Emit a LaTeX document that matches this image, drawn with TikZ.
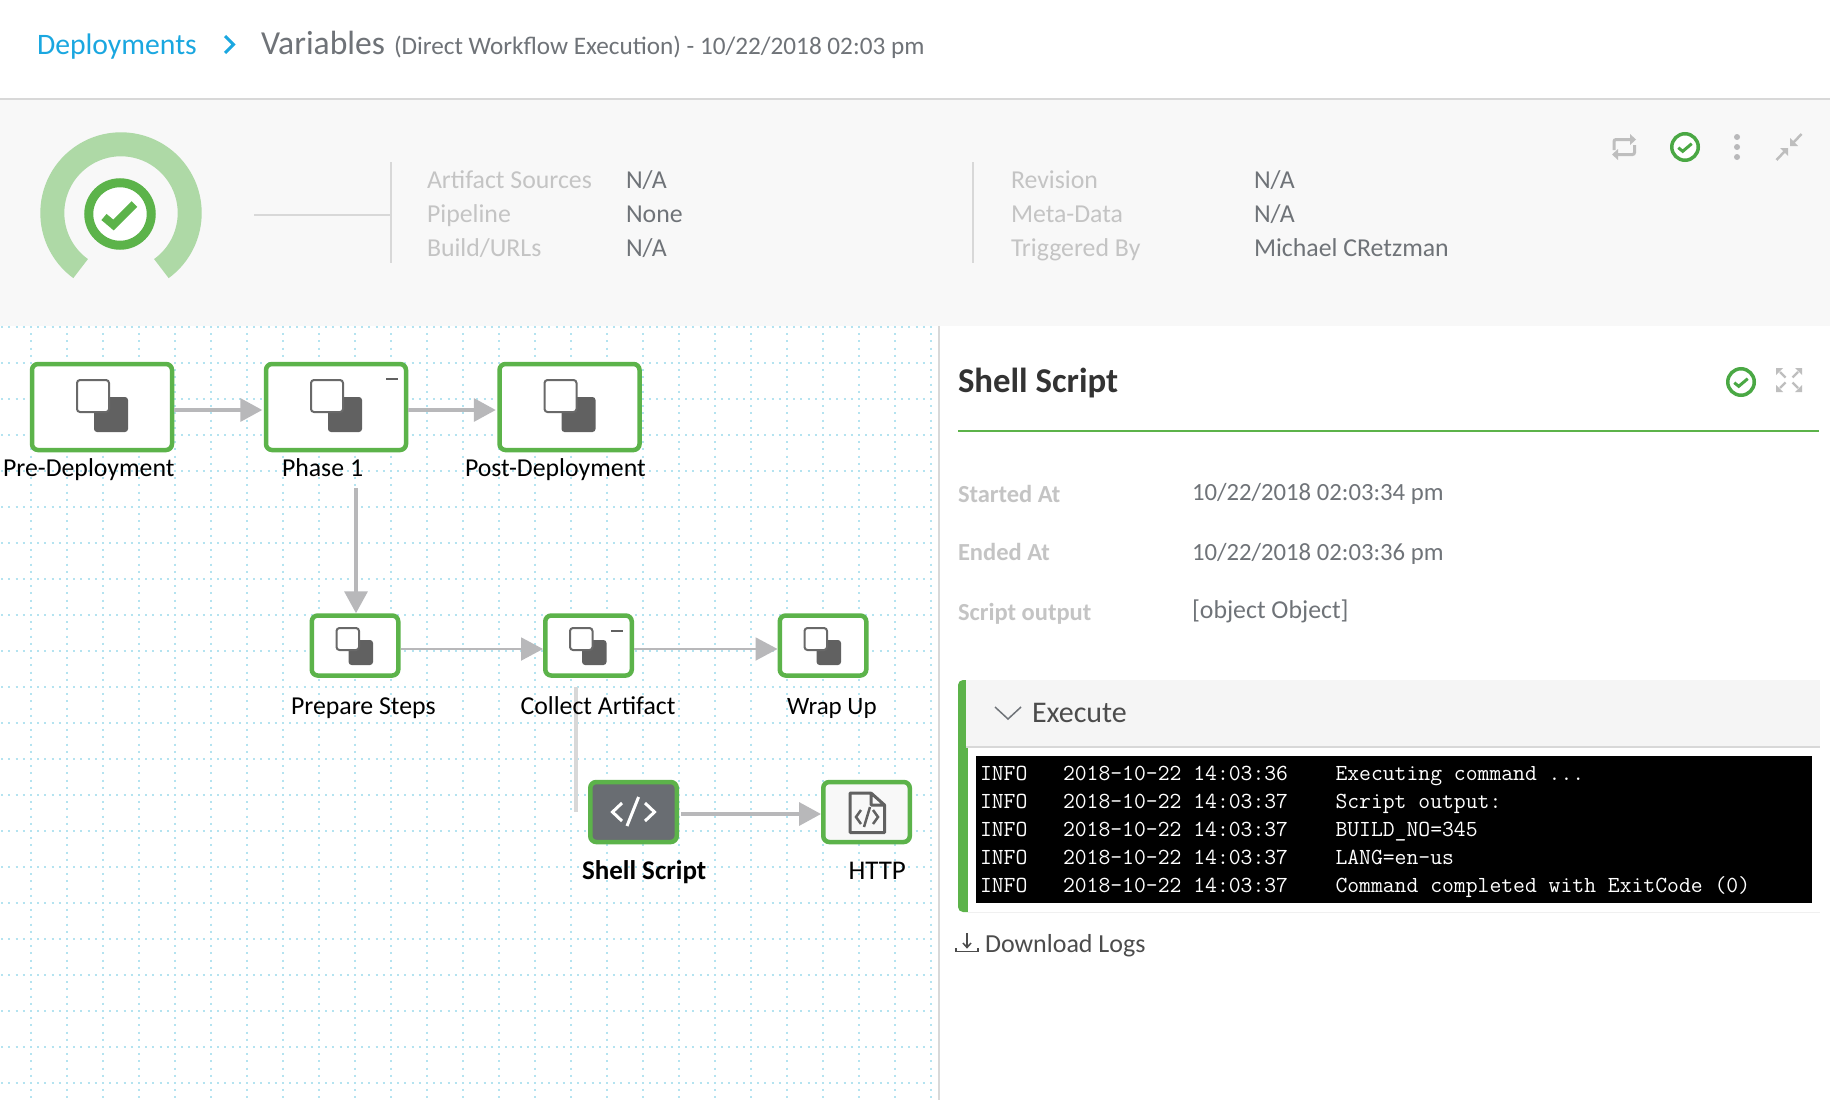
\documentclass[tikz,border=0pt]{standalone}
\usepackage{fontspec}
\setmainfont{Carlito}
\usetikzlibrary{arrows.meta}

\definecolor{okgreen}{HTML}{5CB34A}
\definecolor{ringgreen}{HTML}{AED9A6}
\definecolor{checkgreen}{HTML}{4AA844}
\definecolor{linkblue}{HTML}{1AA7E0}
\definecolor{bandgray}{HTML}{F8F8F8}
\definecolor{rulegray}{HTML}{D8D8D8}
\definecolor{arrowgray}{HTML}{B8B8BA}
\definecolor{icongray}{HTML}{BEBEBE}
\definecolor{mutedgray}{HTML}{C4C4C4}
\definecolor{softgray}{HTML}{6F7378}
\definecolor{squaregray}{HTML}{616161}
\definecolor{griddot}{HTML}{B4E3F0}

\tikzset{
  txt/.style={anchor=base west, inner sep=0pt, outer sep=0pt, font=\fontsize{25.8}{30}\selectfont},
  muted/.style={txt, text=mutedgray},
  value/.style={txt, text=softgray},
  datetext/.style={txt, text=softgray, font=\fontsize{24.7}{30}\selectfont},
  steplabel/.style={txt, text=black},
  sidelabel/.style={muted, font=\bfseries\fontsize{24.5}{30}\selectfont},
  logtext/.style={anchor=base west, inner sep=0pt, outer sep=0pt, text=white, font=\ttfamily\fontsize{23}{26}\selectfont},
  bigbox/.style={draw=okgreen, fill=white, line width=4.5pt, rounded corners=6pt, minimum width=140pt, minimum height=86pt, inner sep=0pt},
  smallbox/.style={draw=okgreen, fill=white, line width=4.5pt, rounded corners=6pt, minimum width=86.5pt, minimum height=60pt, inner sep=0pt},
  thickflow/.style={draw=arrowgray, line width=3.5pt, -{Triangle[length=22pt,width=23pt]}},
  thinflow/.style={draw=arrowgray, line width=2pt, -{Triangle[length=22pt,width=23pt]}},
  checkring/.style={circle, draw=checkgreen, fill=white, line width=3.5pt, minimum size=26.5pt, inner sep=0pt},
  whitesquare/.style={draw=squaregray!95, fill=white, line width=2pt, rounded corners=3pt},
  darksquare/.style={fill=squaregray, rounded corners=3pt},
  dotline/.style={griddot, line width=2pt, dash pattern=on 2pt off 5.2pt},
}

\begin{document}
\begin{tikzpicture}[
      x = 1pt,
      y = -1pt,
  ]

  \useasboundingbox (0,0) rectangle (1830,1100);
  \fill[white] (0,0) rectangle (1830,1100);

  % header
  \fill[bandgray] (0,99) rectangle (1830,326);
  \draw[rulegray, line width=2pt] (0,99) -- (1830,99);
  \node[txt, text=linkblue, font=\fontsize{29.7}{34}\selectfont] (crumb) at (37,54) {Deployments};
  \draw[linkblue, line width=3pt] (225,36) -- (233.5,44.5) -- (225,53);
  \node[value, font=\fontsize{33.6}{38}\selectfont] (pagetitle) at (261,54) {Variables};
  \node[value, font=\fontsize{25.2}{30}\selectfont] (pagesub) at (394,54) {(Direct Workflow Execution) - 10/22/2018 02:03 pm};

  % gauge
  \draw[ringgreen, line width=24pt] (121,213) ++(54:68.7) arc[start angle=-54, end angle=234, radius=68.7pt];
  \node[circle, draw=okgreen, fill=white, line width=9pt, minimum size=62.5pt, inner sep=0pt] (gaugecore) at (120,214) {};
  \draw[okgreen, line width=8pt] (104,217) -- (113.5,225) -- (134.5,204);

  \draw[rulegray, line width=2pt] (254,215) -- (391,215);
  \draw[rulegray, line width=2pt] (391,162) -- (391,263);
  \draw[rulegray, line width=2pt] (973,162) -- (973,263);

  % info columns
  \node[muted] (artlbl) at (427,188) {Artifact Sources};
  \node[muted] (pipelbl) at (427,222) {Pipeline};
  \node[muted] (buildlbl) at (427,256) {Build/URLs};
  \node[value] (artval) at (626,188) {N/A};
  \node[value] (pipeval) at (626,222) {None};
  \node[value] (buildval) at (626,256) {N/A};
  \node[muted] (revlbl) at (1011,188) {Revision};
  \node[muted] (metalbl) at (1011,222) {Meta-Data};
  \node[muted] (triglbl) at (1011,256) {Triggered By};
  \node[value] (revval) at (1254,188) {N/A};
  \node[value] (metaval) at (1254,222) {N/A};
  \node[value] (trigval) at (1254,256) {Michael CRetzman};

  % top icons
  \draw[icongray, line width=3pt, rounded corners=2pt] (1614,150) -- (1614,139.5) -- (1630,139.5);
  \fill[icongray] (1636,139.5) -- (1630,134) -- (1630,145) -- cycle;
  \draw[icongray, line width=3pt, rounded corners=2pt] (1634.5,145) -- (1634.5,154.5) -- (1618,154.5);
  \fill[icongray] (1612,154.5) -- (1618,149) -- (1618,160) -- cycle;
  \node[checkring] (statustop) at (1685,147) {};
  \draw[checkgreen, line width=3pt] (1678.3,147.7) -- (1682.7,151.3) -- (1691.7,143.7);
  \foreach \doty in {137,147,157}
    \fill[arrowgray] (1737,\doty) circle[radius=3pt];
  \begin{scope}[shift={(1789,147)}]
    \foreach \sx in {1,-1} {
      \fill[icongray] (\sx*1,-\sx*1) -- (\sx*9,-\sx*1) -- (\sx*1,-\sx*9) -- cycle;
      \draw[icongray, line width=2.5pt] (\sx*4,-\sx*4) -- (\sx*12.5,-\sx*13);
    }
  \end{scope}

  % dotted canvas
  \foreach \gy in {327,363,...,1100}
    \draw[dotline] (-6,\gy) -- (935,\gy);
  \foreach \gx in {31,67,...,935}
    \draw[dotline] (\gx,326) -- (\gx,1100);
  \draw[rulegray, line width=2pt] (939,326) -- (939,1100);

  % top row
  \node[bigbox] (predeploy) at (102,407) {};
  \node[bigbox] (phaseone) at (336,407) {};
  \node[bigbox] (postdeploy) at (569.5,407) {};
  \foreach \nm in {predeploy,phaseone,postdeploy} {
    \begin{scope}[shift={(\nm.center)}]
      \fill[darksquare] (-8,-10) rectangle (26,25);
      \draw[whitesquare] (-25,-27) rectangle (7,5);
    \end{scope}
  }
  \draw[squaregray, line width=1.5pt] (386,379) -- (398,379);
  \draw[thickflow, shorten >=1.5pt] ([yshift=-3pt]predeploy.east) -- ([yshift=-3pt]phaseone.west);
  \draw[thickflow, shorten >=1.5pt] ([yshift=-3pt]phaseone.east) -- ([yshift=-3pt]postdeploy.west);
  \node[steplabel] (prelbl) at (3,476) {Pre-Deployment};
  \node[steplabel] (phaselbl) at (282,476) {Phase 1};
  \node[steplabel] (postlbl) at (465,476) {Post-Deployment};

  % second row
  \coordinate (collectdown) at (576,687);
  \coordinate (shelljoin) at (576,812);
  \draw[rulegray, line width=4pt] (collectdown) -- (shelljoin);
  \node[smallbox] (prepare) at (355,645.5) {};
  \node[smallbox] (collect) at (588.5,645.5) {};
  \node[smallbox] (wrapup) at (823,645.5) {};
  \foreach \nm in {prepare,collect,wrapup} {
    \begin{scope}[shift={(\nm.center)}]
      \fill[darksquare] (-6.4,-5.5) rectangle (18,19.5);
      \draw[whitesquare] (-18.5,-17.5) rectangle (4,4.5);
    \end{scope}
  }
  \draw[squaregray, line width=1.5pt] (611,631) -- (623,631);
  \coordinate (phasedown) at (356,488);
  \draw[thickflow] (phasedown) -- (phasedown |- prepare.north);
  \draw[thinflow] ([yshift=-3.5pt]prepare.east) -- ([yshift=-3.5pt]collect.west);
  \draw[thinflow] ([yshift=-3.5pt]collect.east) -- ([yshift=-3.5pt]wrapup.west);
  \node[steplabel] (preparelbl) at (291,714) {Prepare Steps};
  \node[steplabel] (collectlbl) at (520.5,714) {Collect Artifact};
  \node[steplabel, font=\fontsize{25}{30}\selectfont] (wraplbl) at (787,714) {Wrap Up};

  % third row
  \node[smallbox, fill=softgray!95!black] (shell) at (633.5,812) {};
  \node[smallbox, fill=bandgray] (http) at (866.5,812) {};
  \draw[white, line width=3pt] (622,803) -- (612.5,812) -- (622,821);
  \draw[white, line width=3pt] (645,803) -- (654.5,812) -- (645,821);
  \draw[white, line width=3pt] (627,826) -- (638.6,797);
  \draw[thickflow] ([yshift=-2pt,xshift=2pt]shell.east) -- ([yshift=-2pt]http.west);
  \draw[squaregray, line width=3pt, line join=round] (871,793) -- (850,793) -- (850,832.5) -- (884.5,832.5) -- (884.5,805) -- (871,793) -- (871,805) -- (884.5,805);
  \draw[squaregray, line width=2.5pt] (861,810) -- (856,817) -- (861,824);
  \draw[squaregray, line width=2.5pt] (873,810) -- (878,817) -- (873,824);
  \draw[squaregray, line width=2.5pt] (864,827) -- (870,807);
  \node[steplabel, font=\bfseries\fontsize{27}{32}\selectfont] (shelllbl) at (582,879) {Shell Script};
  \node[steplabel, font=\fontsize{27}{32}\selectfont] (httplbl) at (848.5,879) {HTTP};

  % details panel
  \node[txt, text=black!80, font=\bfseries\fontsize{34.8}{40}\selectfont] (paneltitle) at (958,392) {Shell Script};
  \node[checkring] (statuspanel) at (1741,382) {};
  \draw[checkgreen, line width=3pt] (1734.3,382.7) -- (1738.7,386.3) -- (1747.7,378.7);
  \begin{scope}[shift={(1789,380)}]
    \foreach \sx/\sy in {1/1,-1/1,1/-1,-1/-1} {
      \fill[icongray] (\sx*13,\sy*12) -- (\sx*6,\sy*12) -- (\sx*13,\sy*5) -- cycle;
      \draw[icongray, line width=2.2pt] (\sx*9,\sy*8) -- (\sx*3.5,\sy*2.5);
    }
  \end{scope}
  \draw[okgreen, line width=1.5pt] (958,431) -- (1819,431);

  \node[sidelabel] (startlbl) at (958,502) {Started At};
  \node[sidelabel] (endlbl) at (958,560) {Ended At};
  \node[sidelabel] (outlbl) at (958,620) {Script output};
  \node[datetext] (startval) at (1192,500) {10/22/2018 02:03:34 pm};
  \node[datetext] (endval) at (1192,560) {10/22/2018 02:03:36 pm};
  \node[value] (outval) at (1192,618) {[object Object]};

  % execute panel
  \fill[okgreen, rounded corners=5pt] (958,680) rectangle (975,912);
  \fill[white] (968,680) rectangle (1820,912);
  \fill[black!4] (966,680) rectangle (1820,746);
  \draw[rulegray, line width=2pt] (966,747) -- (1820,747);
  \draw[black!6, line width=1.5pt] (968,912.5) -- (1820,912.5);
  \draw[softgray, line width=1.5pt] (995,707) -- (1008,719) -- (1021,707);
  \node[txt, text=black!70, font=\fontsize{30}{36}\selectfont] (execlbl) at (1032,722) {Execute};
  \fill[black] (976,756) rectangle (1812,903);
  \foreach \logy/\stamp/\msg in {
      780/14:03:36/{Executing command ...},
      808/14:03:37/{Script output:},
      836/14:03:37/{BUILD\_NO=345},
      864/14:03:37/{LANG=en-us},
      892/14:03:37/{Command completed with ExitCode (0)}} {
    \node[logtext] at (980,\logy) {INFO};
    \node[logtext] at (1063,\logy) {2018-10-22 \stamp};
    \node[logtext] at (1335.5,\logy) {\msg};
  }

  % download
  \draw[black!70, line width=1.5pt] (956,948) -- (956,951.5) -- (978,951.5) -- (978,948);
  \draw[black!70, line width=1.5pt] (967,933) -- (967,947);
  \draw[black!70, line width=1.5pt] (963,943) -- (967,947.5) -- (971,943);
  \node[txt, text=black!70, font=\fontsize{26}{30}\selectfont] (dllbl) at (985,952) {Download Logs};

\end{tikzpicture}
\end{document}
